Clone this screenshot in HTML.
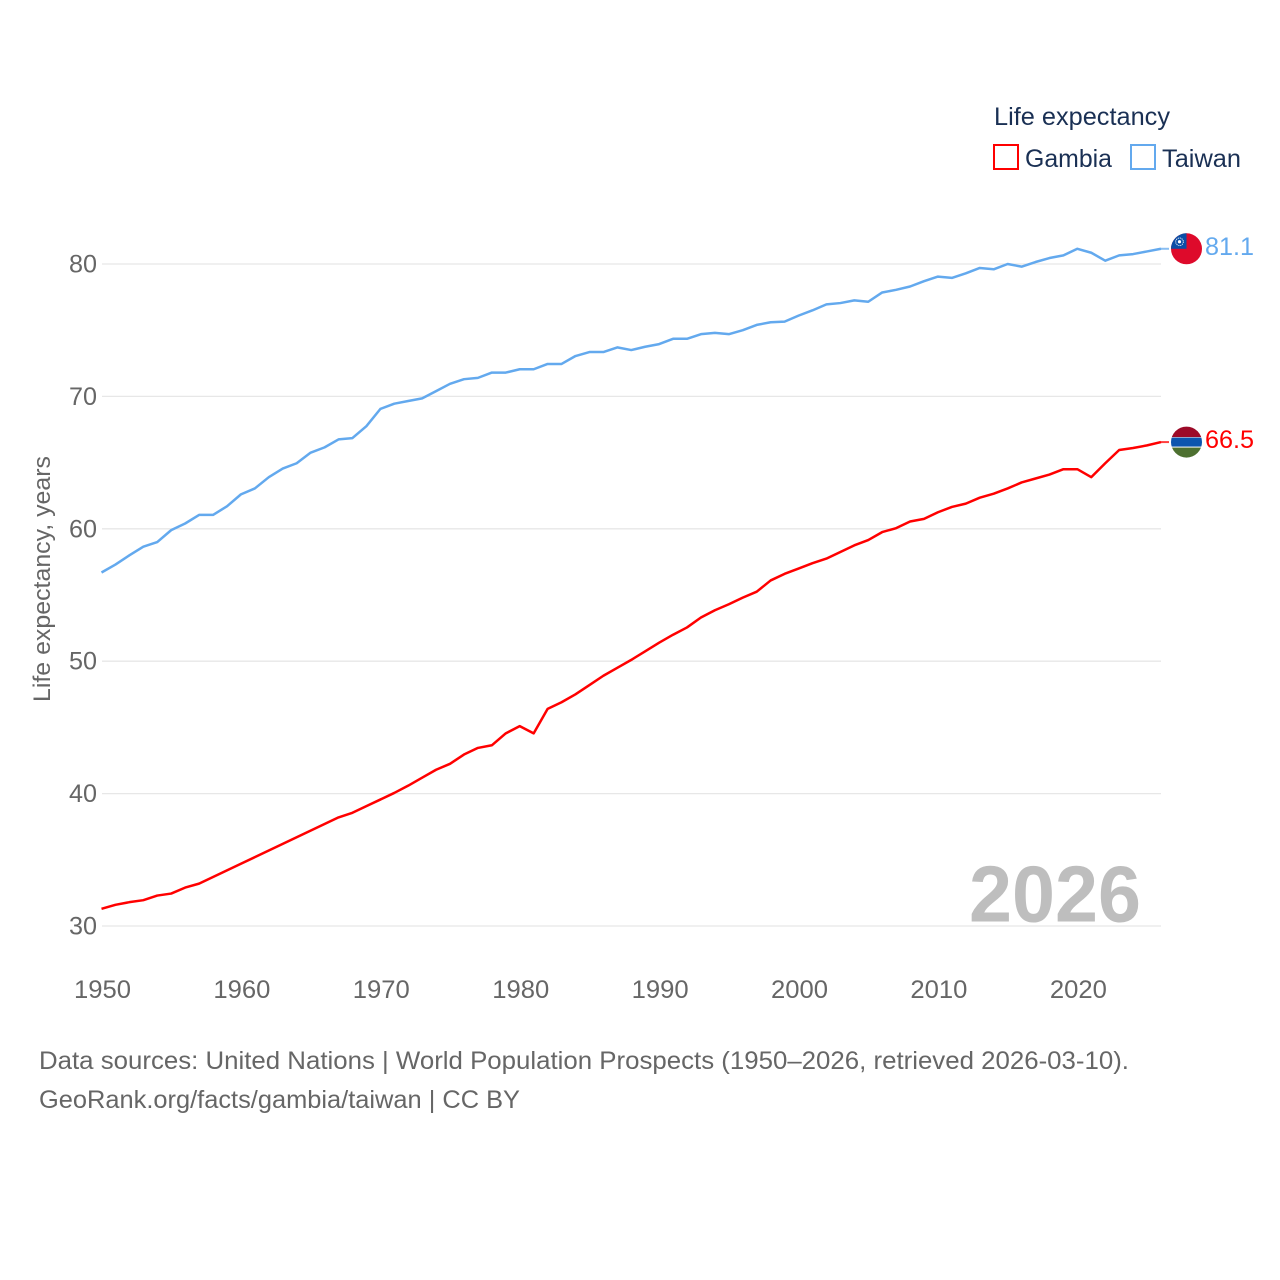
<!DOCTYPE html>
<html lang="en">
<head>
<meta charset="utf-8">
<title>Life expectancy: Gambia and Taiwan</title>
<style>
html,body{margin:0;padding:0;background:#fff;width:1280px;height:1280px;overflow:hidden}
svg{display:block}
text{font-family:"Liberation Sans",sans-serif}
</style>
</head>
<body>
<svg id="chart" width="1280" height="1280" viewBox="0 0 1280 1280" xmlns="http://www.w3.org/2000/svg">
  <rect x="0" y="0" width="1280" height="1280" fill="#fff"/>
  <g id="grid"></g>
  <g id="yticks"></g>
  <g id="xticks"></g>
  <text transform="translate(50,579) rotate(-90)" text-anchor="middle" font-size="24" fill="#666" textLength="246" lengthAdjust="spacingAndGlyphs">Life expectancy, years</text>
  <text x="969" y="921.5" font-size="80" font-weight="700" fill="#bebebe" textLength="172" lengthAdjust="spacingAndGlyphs">2026</text>
  <g id="series"></g>
  <g id="flag-taiwan">
    <clipPath id="clip-tw"><circle cx="0" cy="0" r="15.5"/></clipPath>
    <g clip-path="url(#clip-tw)">
      <rect x="-16" y="-16" width="32" height="32" fill="#de0a2b"/>
      <rect x="-16" y="-16" width="16" height="16" fill="#0b4ea6"/>
      <circle cx="-7" cy="-7" r="3.8" fill="none" stroke="#fff" stroke-width="0.9" stroke-dasharray="1.2 0.8"/>
      <circle cx="-7" cy="-7" r="1.6" fill="#fff"/>
    </g>
  </g>
  <g id="flag-gambia">
    <clipPath id="clip-gm"><circle cx="0" cy="0" r="15.5"/></clipPath>
    <g clip-path="url(#clip-gm)">
      <rect x="-16" y="-16" width="32" height="32" fill="#fff"/>
      <rect x="-16" y="-16" width="32" height="11" fill="#9c0a28"/>
      <rect x="-16" y="-4.5" width="32" height="9" fill="#0c55ae"/>
      <rect x="-16" y="5.5" width="32" height="11" fill="#4d7030"/>
    </g>
  </g>
  <text id="value-taiwan" x="1205" font-size="25" fill="#63a9ee" textLength="49" lengthAdjust="spacingAndGlyphs"></text>
  <text id="value-gambia" x="1205" font-size="25" fill="#ff0000" textLength="49" lengthAdjust="spacingAndGlyphs"></text>
  <g>
    <text x="994" y="125" font-size="25" fill="#1a3054" textLength="176" lengthAdjust="spacingAndGlyphs">Life expectancy</text>
    <g>
      <rect x="994" y="145" width="24" height="24" fill="#fff" stroke="#ff0000" stroke-width="2"/>
      <text x="1025" y="167" font-size="25" fill="#1a3054" textLength="87" lengthAdjust="spacingAndGlyphs">Gambia</text>
    </g>
    <g>
      <rect x="1131" y="145" width="24" height="24" fill="#fff" stroke="#63a9ee" stroke-width="2"/>
      <text x="1162" y="167" font-size="25" fill="#1a3054" textLength="79" lengthAdjust="spacingAndGlyphs">Taiwan</text>
    </g>
  </g>
  <text x="39" y="1069" font-size="25" fill="#666" textLength="1090" lengthAdjust="spacingAndGlyphs">Data sources: United Nations | World Population Prospects (1950–2026, retrieved 2026-03-10).</text>
  <text x="39" y="1108" font-size="25" fill="#666" textLength="481" lengthAdjust="spacingAndGlyphs">GeoRank.org/facts/gambia/taiwan | CC BY</text>
</svg>
<script>
const firstYear = 1950;
const gambia = [31.3,31.6,31.8,31.95,32.3,32.45,32.9,33.2,33.7,34.2,34.7,35.2,35.7,36.2,36.7,37.2,37.7,38.2,38.55,39.05,39.55,40.05,40.6,41.2,41.8,42.25,42.95,43.45,43.65,44.55,45.1,44.55,46.4,46.9,47.5,48.2,48.9,49.5,50.1,50.75,51.4,52,52.55,53.3,53.85,54.3,54.8,55.25,56.1,56.6,57,57.4,57.75,58.25,58.75,59.15,59.75,60.05,60.55,60.75,61.25,61.65,61.9,62.35,62.65,63.05,63.5,63.8,64.1,64.5,64.5,63.9,64.95,65.95,66.1,66.3,66.55];
const taiwan = [56.7,57.3,58,58.65,59,59.9,60.4,61.05,61.05,61.7,62.6,63.05,63.9,64.55,64.95,65.75,66.15,66.75,66.85,67.75,69.05,69.45,69.65,69.85,70.4,70.95,71.3,71.4,71.8,71.8,72.05,72.05,72.45,72.45,73.05,73.35,73.35,73.7,73.5,73.75,73.95,74.35,74.35,74.7,74.8,74.7,75,75.4,75.6,75.65,76.1,76.5,76.95,77.05,77.25,77.15,77.85,78.05,78.3,78.7,79.05,78.95,79.3,79.7,79.6,80,79.8,80.15,80.45,80.65,81.15,80.85,80.25,80.65,80.75,80.95,81.15];
const yTickValues = [30,40,50,60,70,80];
const xTickValues = [1950,1960,1970,1980,1990,2000,2010,2020];
const gambiaLabel = "66.5";
const taiwanLabel = "81.1";

const NS = "http://www.w3.org/2000/svg";
const xScale = year => 101.5 + (year - 1950) * (1161 - 101.5) / (2026 - 1950);
const yScale = value => 926 - (value - 30) * (926 - 264) / (80 - 30);

const grid = document.getElementById("grid");
const yticks = document.getElementById("yticks");
const xticks = document.getElementById("xticks");
const seriesGroup = document.getElementById("series");

yTickValues.forEach(v => {
  const line = document.createElementNS(NS, "line");
  
  
  line.setAttribute("x1", 102);
  line.setAttribute("x2", 1161);
  line.setAttribute("y1", yScale(v));
  line.setAttribute("y2", yScale(v));
  line.setAttribute("stroke", "#e7e7e7");
  line.setAttribute("stroke-width", "1.3");
  grid.appendChild(line);

  const t = document.createElementNS(NS, "text");
  
  
  t.setAttribute("x", 97);
  t.setAttribute("y", yScale(v) + 8.5);
  t.setAttribute("text-anchor", "end");
  t.setAttribute("font-size", "25");
  t.setAttribute("fill", "#666");
  t.setAttribute("textLength", "28");
  t.setAttribute("lengthAdjust", "spacingAndGlyphs");
  t.textContent = v;
  yticks.appendChild(t);
});

xTickValues.forEach(v => {
  const t = document.createElementNS(NS, "text");
  
  
  t.setAttribute("x", xScale(v) + 1);
  t.setAttribute("y", 998);
  t.setAttribute("text-anchor", "middle");
  t.setAttribute("font-size", "25");
  t.setAttribute("fill", "#666");
  t.setAttribute("textLength", "57");
  t.setAttribute("lengthAdjust", "spacingAndGlyphs");
  t.textContent = v;
  xticks.appendChild(t);
});

function pathFor(values) {
  return values.map((v, i) => (i ? "L" : "M") + xScale(firstYear + i).toFixed(2) + " " + yScale(v).toFixed(2)).join(" ");
}

function drawSeries(values, color, lineName, connectorName) {
  const path = document.createElementNS(NS, "path");
  
  
  path.setAttribute("d", pathFor(values));
  path.setAttribute("fill", "none");
  path.setAttribute("stroke", color);
  path.setAttribute("stroke-width", "2.5");
  path.setAttribute("stroke-linejoin", "round");
  seriesGroup.appendChild(path);

  const endY = yScale(values[values.length - 1]);
  const connector = document.createElementNS(NS, "line");
  
  
  connector.setAttribute("x1", xScale(firstYear + values.length - 1));
  connector.setAttribute("x2", 1169);
  connector.setAttribute("y1", endY);
  connector.setAttribute("y2", endY);
  connector.setAttribute("stroke", color);
  connector.setAttribute("stroke-width", "2");
  connector.setAttribute("opacity", "0.75");
  seriesGroup.appendChild(connector);
  return endY;
}

const gambiaEnd = drawSeries(gambia, "#ff0000", "gambia-line", "gambia-connector");
const taiwanEnd = drawSeries(taiwan, "#63a9ee", "taiwan-line", "taiwan-connector");

document.getElementById("flag-gambia").setAttribute("transform", "translate(1186.5," + gambiaEnd + ")");
document.getElementById("flag-taiwan").setAttribute("transform", "translate(1186.5," + taiwanEnd + ")");

const gambiaValue = document.getElementById("value-gambia");
gambiaValue.setAttribute("y", gambiaEnd + 6);
gambiaValue.textContent = gambiaLabel;
const taiwanValue = document.getElementById("value-taiwan");
taiwanValue.setAttribute("y", taiwanEnd + 6);
taiwanValue.textContent = taiwanLabel;
</script>
</body>
</html>
